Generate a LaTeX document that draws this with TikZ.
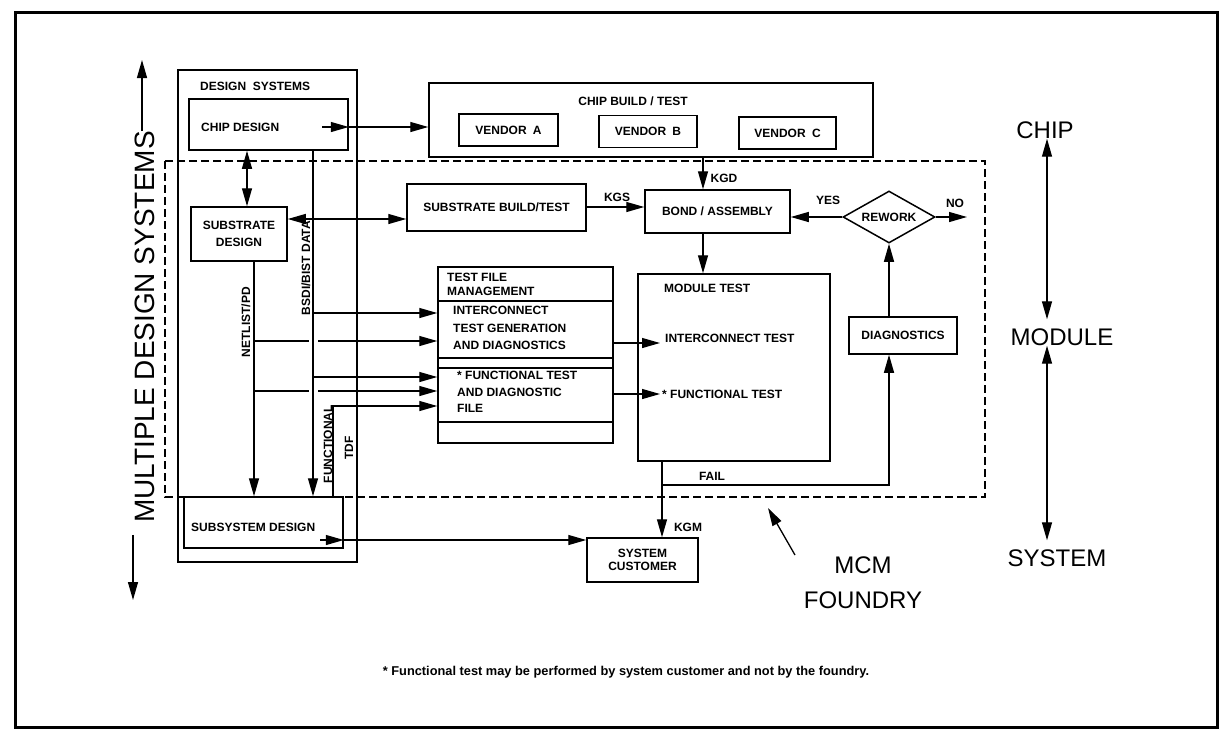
\documentclass[tikz,border=0pt]{standalone}
\usepackage{fontspec}
\setmainfont{Liberation Sans}
\usetikzlibrary{arrows.meta,shapes.geometric}
\begin{document}
\begin{tikzpicture}[x=1pt,y=-1pt,
  tip/.tip={Triangle[length=18pt,width=10pt]},
  box/.style={draw, line width=1.5pt, inner sep=0pt, font=\fontsize{12}{14}\selectfont\bfseries},
  lab/.style={inner sep=0pt, font=\fontsize{12}{14}\selectfont\bfseries},
  big/.style={inner sep=0pt, font=\fontsize{24}{35}\selectfont},
  wire/.style={line width=1.3pt},
  arr/.style={wire, -tip},
  darr/.style={wire, tip-tip},
  region/.style={line width=1.3pt, dash pattern=on 8pt off 4pt}
]
% page and frame
\fill[white] (0,0) rectangle (1220,740);
\useasboundingbox (0,0) rectangle (1220,740);
\draw[line width=3pt] (15,12) rectangle (1217,727);

% MCM foundry region
\draw[region] (165,161) rectangle (985,497);

% design systems column
\node[box, minimum width=179pt, minimum height=492pt] (ds) at (267.5,316) {};
\node[lab, anchor=west] (dst) at (200,86) {DESIGN\ \ SYSTEMS};
\node[box, minimum width=159pt, minimum height=51pt] (cd) at (268.5,124.5) {};
\node[lab, anchor=west] (cdt) at (201,127) {CHIP DESIGN};
\node[box, minimum width=96pt, minimum height=54pt, align=center,
      font=\fontsize{12}{17}\selectfont\bfseries] (sd) at (239,234) {SUBSTRATE\\DESIGN};
\node[box, minimum width=159pt, minimum height=51pt] (ssd) at (263.5,522.5) {};
\node[lab, anchor=west] (ssdt) at (191,527) {SUBSYSTEM DESIGN};

% chip build
\node[box, minimum width=444pt, minimum height=74pt] (cbt) at (651,120) {};
\node[lab] (cbtt) at (633,101) {CHIP BUILD / TEST};
\node[box, minimum width=99pt, minimum height=32pt] (va) at (508.5,130) {VENDOR\hspace{3pt} A};
\node[box, minimum width=98pt, minimum height=32pt] (vb) at (648,131.5) {VENDOR\hspace{3pt} B};
\node[box, minimum width=97pt, minimum height=32pt] (vc) at (787.5,133) {VENDOR\hspace{3pt} C};

% foundry flow
\node[box, minimum width=179pt, minimum height=47pt] (sbt) at (496.5,207.5) {SUBSTRATE BUILD/TEST};
\node[box, minimum width=145pt, minimum height=43pt] (ba) at (717.5,211.5) {BOND / ASSEMBLY};
\node[box, diamond, aspect=1.77, minimum width=92pt, minimum height=52pt, inner sep=1pt] (rw) at (889,217) {REWORK};
\node[box, minimum width=108pt, minimum height=37pt] (dg) at (903,335.5) {DIAGNOSTICS};

% test file management
\node[box, minimum width=175pt, minimum height=176pt] (tf) at (525.5,355) {};
\foreach \yy in {301,358,368,422}
  \draw[line width=1.5pt] (tf.west |- 0,\yy) -- (tf.east |- 0,\yy);
\node[lab, anchor=north west, align=left, font=\fontsize{12}{14}\selectfont\bfseries] (tft) at (447,273) {TEST FILE\\MANAGEMENT};
\node[lab, anchor=north west, align=left, font=\fontsize{12}{17.5}\selectfont\bfseries] (tfi) at (453,306) {INTERCONNECT\\TEST GENERATION\\AND DIAGNOSTICS};
\node[lab, anchor=north west, align=left, font=\fontsize{12}{16.5}\selectfont\bfseries] (tff) at (457,371) {* FUNCTIONAL TEST\\AND DIAGNOSTIC\\FILE};

% module test
\node[box, minimum width=192pt, minimum height=187pt] (mt) at (734,367.5) {};
\node[lab, anchor=west] (mtt) at (664,288) {MODULE TEST};
\node[lab, anchor=west] (mti) at (665,338) {INTERCONNECT TEST};
\node[lab, anchor=west] (mtf) at (662,394) {* FUNCTIONAL TEST};

% customer
\node[box, minimum width=111pt, minimum height=44pt, align=center,
      font=\fontsize{12}{12.5}\selectfont\bfseries] (sc) at (642.5,560) {SYSTEM\\CUSTOMER};

% level labels
\node[big] (chip) at (1045,130) {CHIP};
\node[big] (module) at (1062,337) {MODULE};
\node[big] (system) at (1057,558) {SYSTEM};
\node[big, align=center] (mcm) at (863,583) {MCM\\FOUNDRY};
\node[big, rotate=90, font=\fontsize{28}{30}\selectfont] (mds) at (145,327) {MULTIPLE DESIGN SYSTEMS};
\node[lab, font=\fontsize{12.8}{14}\selectfont\bfseries] (fn) at (626,672) {* Functional test may be performed by system customer and not by the foundry.};

% helper coordinates for trunks and free ends
\coordinate (v1) at (247,0);
\coordinate (nl) at (254,0);
\coordinate (bs) at (313,0);
\coordinate (bsl) at (309,0);
\coordinate (bsr) at (318,0);
\coordinate (v2) at (703,0);
\coordinate (kg) at (662,0);
\coordinate (vr) at (1047,0);
\coordinate (h1) at (0,219);
\coordinate (h2) at (0,207);
\coordinate (cdo) at (322,127);
\coordinate (sso) at (320,540);
\coordinate (ft) at (333,406);
\coordinate (mi1) at (660,343);
\coordinate (mi2) at (660,394);
\coordinate (fj) at (662,485);
\coordinate (no) at (967,217);
\coordinate (mt1) at (142,60);
\coordinate (mb1) at (133,600);
\coordinate (ma) at (795,555);
\coordinate (mb) at (768,508);

% design flow
\draw[arr] (cdo) -- (cd.east |- cdo);
\draw[arr] (cd.east |- cdo) -- (cbt.west |- cdo);
\draw[darr] (v1 |- cd.south) -- (v1 |- sd.north);
\draw[darr] (sd.east |- h1) -- (sbt.west |- h1);
\draw[arr] (nl |- sd.south) -- (nl |- ssd.north);
\draw[arr] (bs |- cd.south) -- (bs |- ssd.north);
\draw[arr] (sso) -- (ssd.east |- sso);
\draw[arr] (ssd.east |- sso) -- (sc.west |- sso);

% data into test file management
\draw[arr] (bs |- 0,313) -- (tf.west |- 0,313);
\draw[wire] (nl |- 0,341) -- (bsl |- 0,341);
\draw[arr] (bsr |- 0,341) -- (tf.west |- 0,341);
\draw[arr] (bs |- 0,377) -- (tf.west |- 0,377);
\draw[wire] (nl |- 0,391) -- (bsl |- 0,391);
\draw[arr] (bsr |- 0,391) -- (tf.west |- 0,391);
\draw[arr] (ft |- ssd.north) |- (tf.west |- ft);

% foundry flow
\draw[arr] (sbt.east |- h2) -- (ba.west |- h2);
\draw[arr] (v2 |- cbt.south) -- (v2 |- ba.north);
\draw[arr] (v2 |- ba.south) -- (v2 |- mt.north);
\draw[arr] (rw.west) -- (ba.east |- rw.west);
\draw[arr] (rw.east) -- (no);
\draw[arr] (rw.south |- dg.north) -- (rw.south);
\draw[arr] (tf.east |- mi1) -- (mi1);
\draw[arr] (tf.east |- mi2) -- (mi2);
\draw[arr] (kg |- mt.south) -- (kg |- sc.north);
\draw[arr] (fj) -| (rw.south |- dg.south);

% connector labels
\node[lab] at (617,197) {KGS};
\node[lab] at (724,178) {KGD};
\node[lab] at (828,200) {YES};
\node[lab] at (955,203) {NO};
\node[lab] at (712,476) {FAIL};
\node[lab] at (688,527) {KGM};
\node[lab, rotate=90] at (246,322) {NETLIST/PD};
\node[lab, rotate=90] at (306,268) {BSDI/BIST DATA};
\node[lab, rotate=90] at (328,444) {FUNCTIONAL};
\node[lab, rotate=90] at (349,448) {TDF};

% level arrows
\draw[darr, shorten >=9pt] (chip.south -| vr) -- (module.north -| vr);
\draw[darr, shorten >=9pt] (module.south -| vr) -- (system.north -| vr);
\draw[arr] (mds.east -| mt1) -- (mt1);
\draw[arr, shorten <=12pt] (mds.west -| mb1) -- (mb1);
\draw[arr] (ma) -- (mb);
\end{tikzpicture}
\end{document}
